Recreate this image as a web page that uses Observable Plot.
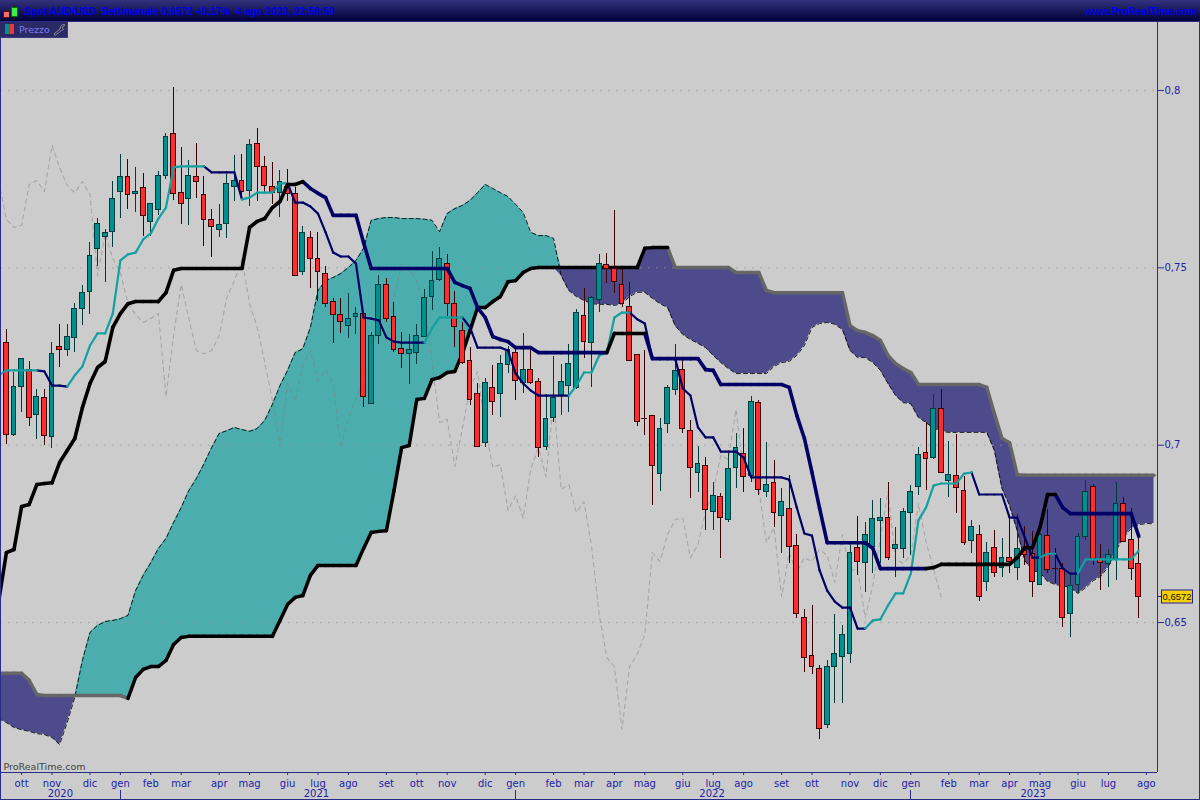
<!DOCTYPE html>
<html><head><meta charset="utf-8">
<script src="https://cdn.jsdelivr.net/npm/d3@7"></script>
<script src="https://cdn.jsdelivr.net/npm/@observablehq/plot@0.6"></script>
<style>
html,body{margin:0;padding:0;background:#ccc;width:1200px;height:800px;overflow:hidden}
#top{position:relative;height:22px;width:1200px;box-sizing:border-box;background:linear-gradient(#32327e,#000038);border-bottom:1px solid #2b2b8c;font:bold 10.2px "Liberation Sans",sans-serif;color:#0000f0}
#ttl{position:absolute;left:24px;top:6px;white-space:pre}
#site{position:absolute;right:3px;top:6px}
#ico{position:absolute;left:0;top:0}
#tag{position:absolute;left:0;top:22px;width:68px;height:16px;box-sizing:border-box;background:#2a2a66;border-right:1px solid #3a3a80;border-bottom:1px solid #3a3a80;font:9.5px "DejaVu Sans",sans-serif;color:#7a7af5;z-index:3}
#tag span{position:absolute;left:19px;top:2px}
#tag svg{position:absolute;left:5px;top:2px}
svg{display:block}
</style></head><body>
<div id="top">
<svg id="ico" width="20" height="21"><path d="M6.500 9V20M14.500 4V20" stroke="#222" stroke-width="1"/><rect x="3.500" y="11.500" width="6" height="6" fill="#f07070" stroke="#700"/><rect x="11.500" y="7.500" width="6" height="9" fill="#40f040" stroke="#070"/></svg>
<div id="ttl">Spot AUD/USD  Settimanale 0,6572 +0,17%  4 ago 2023, 22:59:59</div>
<div id="site">www.ProRealTime.com</div>
</div>
<div id="tag"><svg width="62" height="13"><rect x="0" y="0" width="4.500" height="10" fill="#009090"/><rect x="4.500" y="0" width="4.500" height="10" fill="#ff3030"/><path transform="translate(48,0)" d="M12 1l-3 2.500 1.500 2-2 1L2 11.500 1 10l6-5 .5-2.500L10 .5z" fill="none" stroke="#8a8a98" stroke-width="1"/></svg><span>Prezzo</span></div>
<div id="chart"></div>
<script>
const opens=[.7289,.7030,.7163,.7211,.7084,.7134,.7022,.7278,.7267,.7301,
.7385,.7431,.7552,.7586,.7602,.7715,.7755,.7707,.7724,.7628,
.7662,.7760,.7876,.7710,.7693,.7757,.7704,.7634,.7608,.7625,
.7729,.7746,.7718,.7850,.7783,.7729,.7712,.7729,.7707,.7487,
.7583,.7526,.7484,.7405,.7366,.7335,.7360,.7371,.7117,.7309,
.7453,.7360,.7272,.7258,.7261,.7306,.7419,.7467,.7510,.7397,
.7323,.7236,.7143,.7007,.7160,.7143,.7225,.7261,.7174,.7213,
.7177,.6996,.7078,.7140,.7168,.7160,.7363,.7289,.7408,.7507,
.7496,.7453,.7391,.7253,.7074,.7081,.6918,.7061,.7157,.7213,
.7039,.6923,.6940,.6813,.6853,.6788,.6937,.6974,.6914,.7120,
.6869,.6894,.6799,.6819,.6717,.6514,.6407,.6368,.6210,.6376,
.6404,.6410,.6709,.6669,.6714,.6785,.6794,.6706,.6706,.6810,
.6883,.6977,.6963,.7101,.6898,.6912,.6872,.6731,.6748,.6615,
.6711,.6655,.6681,.6655,.6703,.6692,.6607,.6745,.6652,.6652,
.6525,.6607,.6740,.6883,.6675,.6664,.6678,.6833,.6734,.6664];
const highs=[.7326,.7205,.7244,.7236,.7157,.7157,.7289,.7341,.7341,.7399,
.7450,.7571,.7639,.7608,.7743,.7820,.7806,.7783,.7766,.7679,
.7771,.7879,.8008,.7839,.7803,.7850,.7757,.7665,.7679,.7763,
.7817,.7820,.7862,.7893,.7814,.7797,.7774,.7777,.7726,.7617,
.7602,.7600,.7504,.7414,.7414,.7428,.7388,.7374,.7318,.7478,
.7470,.7402,.7318,.7312,.7341,.7439,.7546,.7557,.7538,.7433,
.7346,.7275,.7174,.7188,.7225,.7253,.7278,.7272,.7315,.7270,
.7188,.7143,.7250,.7228,.7284,.7383,.7442,.7419,.7538,.7540,
.7662,.7496,.7459,.7256,.7267,.7084,.7076,.7168,.7284,.7239,
.7070,.6996,.6965,.6894,.6864,.6976,.7033,.7047,.7137,.7126,
.7008,.6957,.6878,.6914,.6748,.6537,.6548,.6379,.6393,.6523,
.6492,.6717,.6799,.6782,.6844,.6850,.6894,.6768,.6822,.6886,
.6993,.7064,.7143,.7157,.7010,.7030,.6911,.6788,.6774,.6725,
.6759,.6737,.6794,.6805,.6771,.6757,.6751,.6819,.6709,.6667,
.6633,.6751,.6900,.6889,.6720,.6706,.6894,.6853,.6822,.6740];
const lows=[.7002,.7024,.7092,.7052,.7016,.6999,.6991,.7219,.7250,.7261,
.7337,.7368,.7504,.7459,.7557,.7639,.7665,.7656,.7588,.7588,
.7648,.7749,.7690,.7623,.7620,.7696,.7560,.7529,.7586,.7583,
.7687,.7693,.7673,.7687,.7712,.7679,.7642,.7687,.7478,.7478,
.7442,.7405,.7388,.7287,.7315,.7301,.7312,.7106,.7117,.7284,
.7346,.7261,.7216,.7171,.7228,.7304,.7380,.7461,.7363,.7275,
.7228,.7112,.6993,.6993,.7084,.7079,.7202,.7126,.7146,.7171,
.6965,.6985,.7064,.7084,.7092,.7157,.7244,.7163,.7374,.7456,
.7428,.7388,.7236,.7052,.7027,.6830,.6869,.7033,.7140,.7033,
.6850,.6866,.6759,.6759,.6681,.6782,.6878,.6866,.6894,.6858,
.6853,.6768,.6695,.6667,.6512,.6359,.6353,.6170,.6201,.6272,
.6272,.6385,.6633,.6585,.6638,.6667,.6675,.6627,.6681,.6689,
.6858,.6872,.6960,.6920,.6853,.6808,.6717,.6695,.6559,.6587,
.6627,.6627,.6638,.6618,.6661,.6570,.6604,.6638,.6610,.6486,
.6458,.6582,.6731,.6661,.6590,.6598,.6618,.6728,.6618,.6512];
const closes=[.7030,.7163,.7242,.7078,.7137,.7027,.7258,.7267,.7304,.7385,
.7428,.7532,.7625,.7597,.7695,.7757,.7704,.7715,.7645,.7679,
.7760,.7868,.7707,.7681,.7760,.7743,.7636,.7614,.7620,.7735,
.7746,.7715,.7845,.7783,.7732,.7712,.7743,.7707,.7478,.7597,
.7526,.7487,.7399,.7368,.7346,.7357,.7371,.7137,.7309,.7453,
.7357,.7267,.7258,.7267,.7309,.7416,.7464,.7524,.7399,.7332,
.7233,.7126,.6996,.7174,.7123,.7228,.7267,.7182,.7211,.7174,
.6993,.7075,.7134,.7177,.7230,.7374,.7292,.7414,.7512,.7498,
.7461,.7397,.7236,.7064,.7073,.6940,.7047,.7160,.7208,.7047,
.6937,.6946,.6816,.6858,.6794,.6932,.6993,.6911,.7123,.6875,
.6889,.6810,.6841,.6714,.6523,.6401,.6376,.6199,.6376,.6410,
.6466,.6697,.6672,.6748,.6791,.6794,.6683,.6720,.6813,.6869,
.6971,.6960,.7101,.6923,.6915,.6878,.6725,.6768,.6573,.6697,
.6641,.6683,.6672,.6706,.6689,.6613,.6748,.6647,.6650,.6514,
.6604,.6740,.6869,.6678,.6667,.6689,.6835,.6728,.6650,.6572];
// Line series start one week before the first visible candle.
const firstLineWeek=-1;
const tenkan=[.7197,.7211,.7211,.7211,.7211,.7211,.7208,.7168,.7168,.7165,
.7197,.7222,.7281,.7315,.7315,.7371,.7521,.7538,.7543,.7580,
.7597,.7639,.7670,.7783,.7786,.7786,.7786,.7786,.7769,.7769,
.7769,.7769,.7693,.7698,.7712,.7712,.7712,.7738,.7738,.7684,
.7684,.7673,.7653,.7600,.7543,.7532,.7532,.7512,.7360,.7357,
.7352,.7304,.7292,.7289,.7289,.7289,.7289,.7329,.7360,.7360,
.7360,.7360,.7332,.7275,.7275,.7275,.7275,.7267,.7202,.7174,
.7154,.7140,.7140,.7140,.7140,.7140,.7168,.7205,.7205,.7253,
.7261,.7360,.7374,.7374,.7355,.7343,.7244,.7244,.7244,.7244,
.7160,.7140,.7050,.7022,.7022,.6982,.6982,.6982,.6965,.6909,
.6909,.6909,.6909,.6909,.6903,.6824,.6751,.6745,.6647,.6590,
.6559,.6542,.6542,.6483,.6483,.6506,.6509,.6548,.6582,.6582,
.6638,.6788,.6824,.6886,.6892,.6892,.6892,.6920,.6923,.6861,
.6861,.6861,.6861,.6796,.6796,.6740,.6683,.6683,.6694,.6694,
.6652,.6638,.6638,.6678,.6678,.6678,.6678,.6678,.6678,.6678,.6703];
const kijun=[.6562,.6697,.6706,.6827,.6833,.6889,.6892,.6894,.6951,.6985,
.7019,.7106,.7174,.7219,.7236,.7332,.7371,.7399,.7405,.7405,
.7405,.7405,.7430,.7493,.7498,.7498,.7498,.7498,.7498,.7498,
.7498,.7498,.7498,.7614,.7631,.7639,.7670,.7687,.7735,.7735,
.7743,.7724,.7710,.7698,.7648,.7648,.7648,.7648,.7571,.7498,
.7498,.7498,.7498,.7498,.7498,.7498,.7498,.7498,.7498,.7498,
.7459,.7450,.7442,.7388,.7360,.7306,.7298,.7292,.7275,.7275,
.7275,.7261,.7261,.7261,.7261,.7261,.7261,.7261,.7261,.7261,
.7261,.7315,.7315,.7315,.7315,.7315,.7244,.7244,.7244,.7244,
.7244,.7244,.7244,.7213,.7211,.7171,.7171,.7171,.7171,.7171,
.7171,.7171,.7171,.7171,.7163,.7084,.7019,.6923,.6822,.6725,
.6725,.6725,.6725,.6725,.6725,.6709,.6652,.6652,.6652,.6652,
.6652,.6652,.6652,.6655,.6664,.6664,.6664,.6664,.6664,.6664,
.6664,.6664,.6664,.6664,.6683,.6711,.6711,.6768,.6861,.6861,
.6824,.6807,.6807,.6807,.6807,.6807,.6807,.6807,.6807,.6807,.6743];
const senkouA=[.6229,.6218,.6204,.6198,.6193,.6187,.6184,.6176,.6156,.6218,
.6289,.6393,.6472,.6492,.6503,.6506,.6511,.6520,.6590,.6633,
.6669,.6709,.6737,.6782,.6824,.6872,.6906,.6948,.6993,.7033,
.7041,.7050,.7044,.7039,.7047,.7070,.7115,.7168,.7211,.7261,
.7272,.7332,.7436,.7464,.7473,.7484,.7501,.7521,.7555,.7634,
.7639,.7642,.7642,.7639,.7639,.7639,.7637,.7634,.7602,.7653,
.7667,.7676,.7690,.7712,.7735,.7724,.7712,.7701,.7679,.7656,
.7600,.7591,.7591,.7583,.7478,.7436,.7419,.7408,.7399,.7397,
.7397,.7394,.7399,.7419,.7431,.7431,.7414,.7399,.7388,.7337,
.7312,.7298,.7287,.7275,.7253,.7233,.7216,.7202,.7202,.7202,
.7202,.7202,.7222,.7233,.7236,.7253,.7281,.7332,.7343,.7346,
.7341,.7326,.7267,.7247,.7247,.7233,.7211,.7174,.7140,.7120,
.7117,.7078,.7064,.7047,.7039,.7036,.7036,.7036,.7036,.7036,
.7036,.6985,.6878,.6830,.6759,.6675,.6647,.6641,.6616,.6607,
.6604,.6598,.6582,.6598,.6618,.6630,.6658,.6703,.6740,.6765,.6776,.6779,.6779];
const senkouB=[.6357,.6357,.6357,.6357,.6337,.6297,.6294,.6294,.6294,.6294,
.6294,.6294,.6294,.6294,.6294,.6294,.6294,.6286,.6345,.6368,
.6376,.6376,.6393,.6438,.6458,.6461,.6461,.6461,.6461,.6461,
.6461,.6461,.6461,.6461,.6461,.6461,.6461,.6506,.6551,.6571,
.6576,.6633,.6661,.6661,.6661,.6661,.6661,.6661,.6709,.6754,
.6757,.6759,.6872,.6993,.6999,.7129,.7132,.7185,.7191,.7205,
.7208,.7258,.7323,.7388,.7388,.7405,.7419,.7461,.7464,.7487,
.7498,.7501,.7501,.7501,.7501,.7501,.7501,.7501,.7501,.7501,
.7501,.7501,.7501,.7501,.7501,.7555,.7557,.7557,.7557,.7501,
.7501,.7501,.7501,.7501,.7501,.7501,.7501,.7487,.7487,.7487,
.7487,.7436,.7430,.7430,.7430,.7430,.7430,.7430,.7430,.7430,
.7430,.7430,.7337,.7323,.7318,.7309,.7295,.7253,.7230,.7216,
.7205,.7171,.7171,.7171,.7171,.7171,.7171,.7171,.7171,.7171,
.7163,.7089,.7019,.7007,.6917,.6915,.6915,.6915,.6915,.6915,
.6915,.6915,.6915,.6915,.6915,.6915,.6915,.6915,.6915,.6915,.6915,.6915,.6915];
const chikouLag=26;
const monthWeeks=[2,6,11,15,19,23,28,32,37,41,45,50,54,58,63,67,72,76,80,84,89,93,97,102,106,111,115,119,124,128,132,136,141,145,150];
const monthNames=["ott","nov","dic","gen","feb","mar","apr","mag","giu","lug","ago","set","ott","nov","dic","gen","feb","mar","apr","mag","giu","lug","ago","set","ott","nov","dic","gen","feb","mar","apr","mag","giu","lug","ago"];
const yearNames=["2020","2021","2022","2023"];
const yearCentres=[7.1,40.8,92.85,135.1];
const yearStarts=[15,67,119];
const priceTicks=[.65,.7,.75,.8];
const lastPrice=.6572;

const NAVY="#000066",AXIS="#2b2b8c",INK="#1c1ca8";
const candles=closes.map((c,i)=>({i,o:opens[i],h:highs[i],l:lows[i],c,up:c>=opens[i]}));
const up=candles.filter(d=>d.up),down=candles.filter(d=>!d.up);
const series=v=>v.map((y,k)=>({x:k+firstLineWeek,y}));
const cloud=senkouA.map((a,k)=>({x:k+firstLineWeek,a,b:senkouB[k]}));
const chikou=closes.slice(chikouLag-1).map((y,k)=>({x:k+firstLineWeek,y}));
function segments(v,startUp){
  const out=[];let rising=startUp;
  for(let k=0;k<v.length-1;k++){
    if(v[k+1]>v[k])rising=true;else if(v[k+1]<v[k])rising=false;
    out.push({x1:k+firstLineWeek,x2:k+1+firstLineWeek,y1:v[k],y2:v[k+1],rising});
  }
  return out;
}
const turning=(v,startUp,upColor,downColor,strokeWidth)=>{
  const s=segments(v,startUp),o={x1:"x1",x2:"x2",y1:"y1",y2:"y2",strokeWidth,strokeLinecap:"round",clip:true};
  return [Plot.link(s.filter(d=>!d.rising),{...o,stroke:downColor}),Plot.link(s.filter(d=>d.rising),{...o,stroke:upColor})];
};
const frame=(index,{x,y},values,{width,height,marginBottom,marginRight})=>{
  const g=d3.create("svg:g").attr("stroke",AXIS).attr("fill","none");
  const base=height-marginBottom,right=width-marginRight;
  const line=(x1,y1,x2,y2,w=1)=>g.append("line").attr("x1",x1).attr("y1",y1).attr("x2",x2).attr("y2",y2).attr("stroke-width",w);
  line(right+.5,0,right+.5,base);
  line(0,base+.5,right,base+.5);
  line(.5,0,.5,height);
  line(0,height-.5,width,height-.5);
  line(width-.5,0,width-.5,height);
  yearStarts.forEach(w=>line(Math.round(x(w))+.5,base+18,Math.round(x(w))+.5,height));
  const py=y(lastPrice);
  line(right,py,right+6,py);
  g.append("rect").attr("x",1161.5).attr("y",py-6.5).attr("width",31).attr("height",13).attr("fill","#f5d000").attr("stroke","#2020a0");
  g.append("text").attr("x",1177).attr("y",py+3.4).attr("text-anchor","middle").attr("font-family",'"Liberation Sans",sans-serif').attr("font-size",9.5).attr("fill","#111").attr("stroke","none").text("0,6572");
  return g.node();
};
const chart=Plot.plot({
  width:1200,height:778,marginTop:0,marginLeft:0,marginRight:43,marginBottom:28,
  style:{background:"#cccccc",fontFamily:'"DejaVu Sans",sans-serif',fontSize:"10px"},
  x:{type:"linear",domain:[-.776,151.46]},
  y:{type:"linear",domain:[.60772,.81917]},
  marks:[
    Plot.areaY(cloud,{x:"x",y1:"b",y2:d=>Math.max(d.a,d.b),fill:"#4badad",clip:true}),
    Plot.areaY(cloud,{x:"x",y1:d=>Math.min(d.a,d.b),y2:"b",fill:"#4d4b8c",clip:true}),
    Plot.ruleY(priceTicks,{stroke:"#999",strokeOpacity:.5,strokeWidth:1.5,strokeDasharray:"2,6"}),
    Plot.line(chikou,{x:"x",y:"y",stroke:"#808080",strokeOpacity:.5,strokeWidth:1.1,strokeDasharray:"4,4",clip:true}),
    Plot.line(series(senkouA),{x:"x",y:"y",stroke:"#000",strokeOpacity:.85,strokeWidth:1,strokeDasharray:"4,3",clip:true}),
    ...turning(senkouB,false,"#000","#666",3.5),
    Plot.ruleX(up,{x:"i",y1:"l",y2:"h",stroke:"#003c3c",shapeRendering:"crispEdges"}),
    Plot.ruleX(down,{x:"i",y1:"l",y2:"h",stroke:"#3c0000",shapeRendering:"crispEdges"}),
    Plot.rect(up,{x1:d=>d.i-.31,x2:d=>d.i+.31,y1:"o",y2:"c",fill:"#009090",stroke:"#003c3c",shapeRendering:"crispEdges"}),
    Plot.rect(down,{x1:d=>d.i-.31,x2:d=>d.i+.31,y1:"o",y2:"c",fill:"#ff2d2d",stroke:"#3c0000",shapeRendering:"crispEdges"}),
    ...turning(tenkan,true,"#12a0a0",NAVY,2.2),
    ...turning(kijun,true,"#000",NAVY,3.6),
    Plot.axisY(priceTicks,{anchor:"right",label:null,tickSize:6,tickPadding:1,stroke:AXIS,color:INK,tickFormat:d=>String(d).replace(".",",")}),
    Plot.axisX(monthWeeks,{anchor:"bottom",label:null,tickSize:3,tickPadding:4,stroke:AXIS,color:INK,tickFormat:d=>monthNames[monthWeeks.indexOf(d)]}),
    Plot.text(yearNames,{x:(d,i)=>yearCentres[i],text:d=>d,frameAnchor:"bottom",dy:24,fill:INK}),
    Plot.text(["ProRealTime.com"],{text:d=>d,frameAnchor:"bottom-left",dx:3,dy:-3,fill:"#444",fontSize:9.5,letterSpacing:.5}),
    frame
  ]
});
document.getElementById("chart").append(chart);
</script>
</body></html>
